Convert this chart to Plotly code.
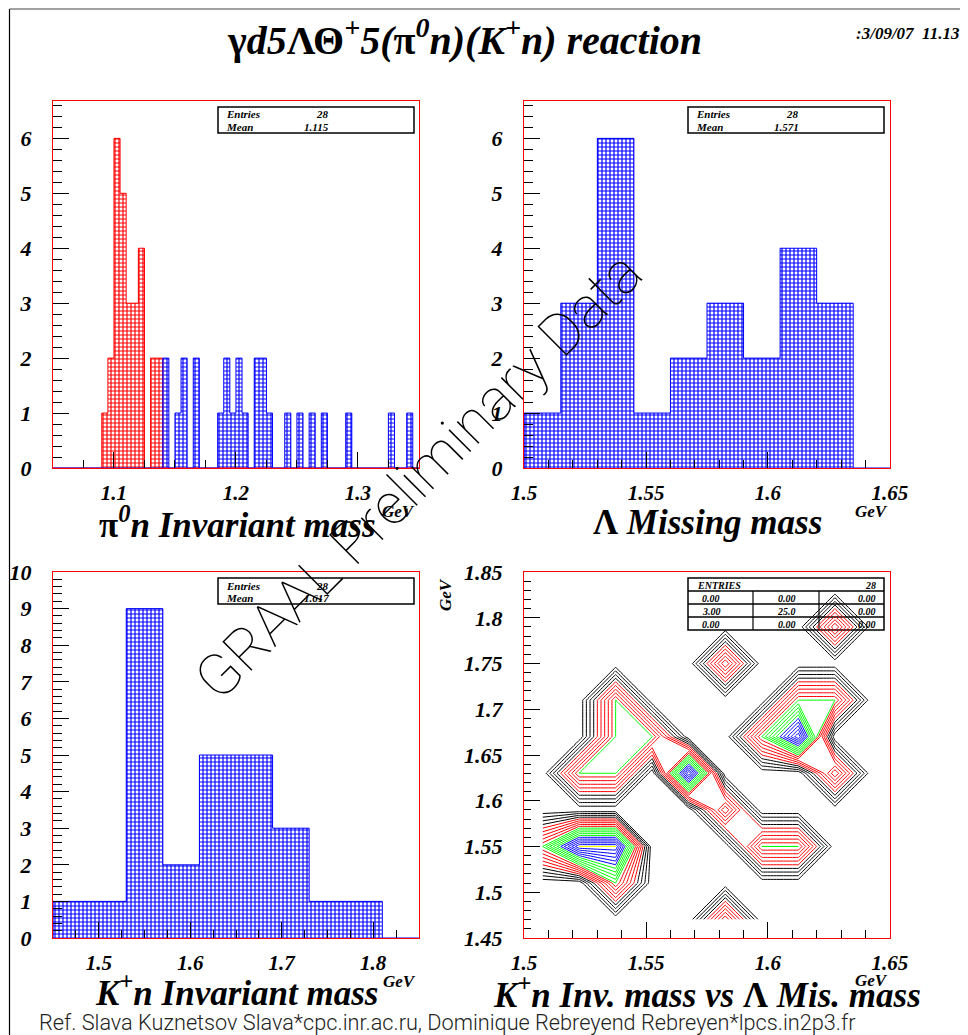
import numpy as np
import plotly.graph_objects as go

# page body margin of the viewer is 8 px; the figure is sized to fit the window
OFF = 8
FW, FH = 968 - OFF, 1035 - OFF

# ---------------- data ----------------
# pi0 n invariant mass (top-left): 60 bins of 0.005 GeV from 1.05
pi0n_lo, pi0n_w = 1.05, 0.005
pi0n_red = [0, 0, 0, 0, 0, 0, 0, 0, 1, 2,
            6, 5, 3, 3, 4, 0, 2, 2, 0, 0,
            0, 0, 0, 0, 0, 0, 0, 0, 0, 0,
            0, 0, 0, 0, 0, 0, 0, 0, 0, 0,
            0, 0, 0, 0, 0, 0, 0, 0, 0, 0,
            0, 0, 0, 0, 0, 0, 0, 0, 0, 0]
pi0n_blue = [0, 0, 0, 0, 0, 0, 0, 0, 0, 0,
             0, 0, 0, 0, 0, 0, 0, 0, 2, 0,
             1, 2, 0, 2, 0, 0, 0, 1, 2, 1,
             2, 1, 0, 2, 2, 1, 0, 0, 1, 0,
             1, 0, 1, 0, 1, 0, 0, 0, 1, 0,
             0, 0, 0, 0, 0, 1, 0, 0, 1, 0]

# Lambda missing mass (top-right): 10 bins of 0.015 GeV from 1.5
lam_lo, lam_w = 1.5, 0.015
lam_counts = [1, 3, 6, 1, 2, 3, 2, 4, 3, 0]

# K+ n invariant mass (bottom-left): 10 bins of 0.04 GeV from 1.45
kn_lo, kn_w = 1.45, 0.04
kn_counts = [1, 1, 9, 2, 5, 5, 3, 1, 1, 0]

# 2D: rows = K+n bins (y), columns = Lambda missing-mass bins (x)
z2d = [
    [0, 0, 0, 0, 0, 1, 0, 0, 0, 0],
    [0, 0, 1, 0, 0, 0, 0, 0, 0, 0],
    [1, 2, 2, 0, 0, 0, 1, 1, 0, 0],
    [0, 0, 0, 0, 0, 1, 0, 0, 0, 0],
    [0, 1, 1, 0, 2, 0, 0, 0, 1, 0],
    [0, 0, 1, 1, 0, 0, 1, 2, 0, 0],
    [0, 0, 1, 0, 0, 0, 0, 1, 1, 0],
    [0, 0, 0, 0, 0, 1, 0, 0, 0, 0],
    [0, 0, 0, 0, 0, 0, 0, 0, 1, 0],
    [0, 0, 0, 0, 0, 0, 0, 0, 0, 0],
]

stats_tl = ("28", "1.115")
stats_tr = ("28", "1.571")
stats_bl = ("28", "1.617")
stats_br_entries = "28"
stats_br_table = [["0.00", "0.00", "0.00"],
                  ["3.00", "25.0", "0.00"],
                  ["0.00", "0.00", "0.00"]]

# contour levels and their colours
contour_sets = [(0.1, 0.41, "black"), (0.5, 0.91, "red"), (0.9999, 1.41, "#00ff00"),
                (1.5, 1.91, "blue"), (1.9999, 2.0, "yellow")]

# ---------------- helpers ----------------
def px(x):
    return (x - OFF) / FW


def py(y):
    return 1 - (y - OFF) / FH


def edges(lo, w, n):
    return lo + w * np.arange(n + 1)


def centers(lo, w, n):
    e = edges(lo, w, n)
    return 0.5 * (e[:-1] + e[1:])


SERIF = "Liberation Serif"


def hist_traces(lo, w, counts, color, xa, ya):
    n = len(counts)
    e = edges(lo, w, n)
    c = centers(lo, w, n)
    bar = go.Bar(x=c, y=counts, width=w, xaxis=xa, yaxis=ya,
                 marker=dict(line=dict(width=0),
                             pattern=dict(shape="+", fgcolor=color, bgcolor="white",
                                          size=4, solidity=0.5, fillmode="replace")),
                 hoverinfo="skip")
    sx = [e[0]] + list(e[:-1]) + [e[-1], e[-1]]
    sy = [0] + list(counts) + [counts[-1], 0]
    step = go.Scatter(x=sx, y=sy, mode="lines", line=dict(color=color, width=1, shape="hv"),
                      xaxis=xa, yaxis=ya, hoverinfo="skip")
    return [bar, step]


def axis(domain, rng, dtick, mdtick, anchor, fsize, standoff, ticklen=16, mlen=8):
    return dict(domain=domain, range=rng, tickmode="linear", tick0=0, dtick=dtick,
                ticks="inside", ticklen=ticklen, tickwidth=1, tickcolor="black",
                minor=dict(dtick=mdtick, tick0=0, ticks="inside", ticklen=mlen,
                           tickcolor="black", tickwidth=1, showgrid=False),
                showline=True, linecolor="red", linewidth=1, mirror=True,
                showgrid=False, zeroline=False, anchor=anchor, automargin=False,
                tickfont=dict(family=SERIF, size=fsize, color="black",
                              weight="bold", style="italic"),
                ticklabelstandoff=standoff, fixedrange=True)


fig = go.Figure()

# top-left
for t in hist_traces(pi0n_lo, pi0n_w, pi0n_red, "red", "x", "y"):
    fig.add_trace(t)
for t in hist_traces(pi0n_lo, pi0n_w, pi0n_blue, "blue", "x", "y"):
    fig.add_trace(t)
# top-right
for t in hist_traces(lam_lo, lam_w, lam_counts, "blue", "x2", "y2"):
    fig.add_trace(t)
# bottom-left
for t in hist_traces(kn_lo, kn_w, kn_counts, "blue", "x3", "y3"):
    fig.add_trace(t)
# bottom-right contour
cx = centers(lam_lo, lam_w, 10)
cy = centers(kn_lo, kn_w, 10)
for s, e, col in contour_sets:
    fig.add_trace(go.Contour(x=cx, y=cy, z=z2d, autocontour=False,
                             contours=dict(start=s, end=e, size=0.1, coloring="none"),
                             line=dict(color=col, width=1, smoothing=0), showscale=False,
                             hoverinfo="skip", xaxis="x4", yaxis="y4"))

# panel geometry (pixels in the window)
L1, R1, L2, R2 = 53, 419, 524, 890
T1, B1, T2, B2 = 101, 468, 572, 938

fig.update_layout(
    width=FW, height=FH, margin=dict(l=0, r=0, t=0, b=0, pad=0, autoexpand=False),
    paper_bgcolor="white", plot_bgcolor="rgba(0,0,0,0)",
    showlegend=False, barmode="overlay", bargap=0,
    xaxis=axis([px(L1), px(R1)], [1.05, 1.3501], 0.1, 0.025, "y", 21, 6),
    yaxis=axis([py(B1), py(T1)], [0, 6.68], 1, 0.2, "x", 22, 16, 16, 9),
    xaxis2=axis([px(L2), px(R2)], [1.4999, 1.6501], 0.05, 0.01, "y2", 21, 6),
    yaxis2=axis([py(B1), py(T1)], [0, 6.68], 1, 0.2, "x2", 22, 16, 16, 9),
    xaxis3=axis([px(L1), px(R1)], [1.4499, 1.8501], 0.1, 0.025, "y3", 21, 6),
    yaxis3=axis([py(B2), py(T2)], [0, 10.0001], 1, 0.2, "x3", 22, 16, 16, 9),
    xaxis4=axis([px(L2), px(R2)], [1.4999, 1.6501], 0.05, 0.01, "y4", 21, 6),
    yaxis4=axis([py(B2), py(T2)], [1.4499, 1.8501], 0.05, 0.01, "x4", 22, 16, 16, 7),
)

annots = []


def ann(text, x, y, size, xanchor="center", yanchor="middle", angle=0,
        family=SERIF, weight="bold", style="italic", color="black"):
    annots.append(dict(text=text, x=px(x), y=py(y), xref="paper", yref="paper",
                       showarrow=False, xanchor=xanchor, yanchor=yanchor, textangle=angle,
                       font=dict(family=family, size=size, color=color,
                                 weight=weight, style=style)))


UP = '<span style="font-style:normal">%s</span>'

# title and date
ann(UP % "γ" + "d5" + UP % "ΛΘ" + "<sup>+</sup>5(" + UP % "π" +
    "<sup>0</sup>n)(K<sup>+</sup>n) reaction", 464, 38, 40)
ann(":3/09/07  11.13", 962, 33, 17, xanchor="right")

# axis titles
ann(UP % "π" + "<sup>0</sup>n Invariant mass", 237, 522, 35)
ann(UP % "Λ" + " Missing mass", 707, 522, 35)
ann("K<sup>+</sup>n Invariant mass", 236, 990, 35)
ann("K<sup>+</sup>n Inv. mass vs " + UP % "Λ" + " Mis. mass", 707, 992, 35)
ann("GeV", 398, 511, 17)
ann("GeV", 871, 511, 17)
ann("GeV", 399, 981, 17)
ann("GeV", 871, 980, 17)
ann("GeV", 445, 595, 17, angle=-90)

shapes = []


def rect(x0, y0, x1, y1, width=1.5):
    shapes.append(dict(type="rect", xref="paper", yref="paper", x0=px(x0), x1=px(x1),
                       y0=py(y1), y1=py(y0), line=dict(color="black", width=width),
                       fillcolor="white", layer="below"))


def line(x0, y0, x1, y1, width=1, color="black"):
    shapes.append(dict(type="line", xref="paper", yref="paper", x0=px(x0), x1=px(x1),
                       y0=py(y0), y1=py(y1), line=dict(color=color, width=width),
                       layer="below"))


# page border
line(9.5, 9, 9.5, 1035, 1.2)
line(9.5, 9, 968, 9, 1.2, "#444")


def stats_box(x0, y0, vals):
    rect(x0, y0, x0 + 196, y0 + 26)
    ann("Entries", x0 + 6, y0 + 7.5, 11, xanchor="left")
    ann(vals[0], x0 + 113, y0 + 7.5, 11, xanchor="right")
    ann("Mean", x0 + 6, y0 + 20, 11, xanchor="left")
    ann(vals[1], x0 + 113, y0 + 20, 11, xanchor="right")


stats_box(218, 107, stats_tl)
stats_box(688, 107, stats_tr)
stats_box(218, 578, stats_bl)

# 2D stats table
bx0, by0 = 688, 578
rect(bx0, by0, bx0 + 196, by0 + 52)
for k in range(3):
    line(bx0, by0 + 13 + 13 * k, bx0 + 196, by0 + 13 + 13 * k, 1.5)
line(bx0 + 65, by0 + 13, bx0 + 65, by0 + 52, 1.2)
line(bx0 + 131, by0 + 13, bx0 + 131, by0 + 52, 1.2)
ann("ENTRIES", bx0 + 7, by0 + 7, 10, xanchor="left")
ann(stats_br_entries, bx0 + 190, by0 + 7, 10, xanchor="right")
for r, row in enumerate(stats_br_table):
    yy = by0 + 20 + 13 * r
    ann(row[0], bx0 + 12, yy, 10, xanchor="left")
    ann(row[1], bx0 + 110, yy, 10, xanchor="right")
    ann(row[2], bx0 + 190, yy, 10, xanchor="right")

# watermark
ann("GRAAL Preliminary Data", 418, 476, 58, angle=-45, family="Roboto",
    weight=100, style="normal")

# footer
ann("Ref. Slava Kuznetsov Slava*cpc.inr.ac.ru, Dominique Rebreyend Rebreyen*lpcs.in2p3.fr",
    37, 1022, 21.7, xanchor="left", family="Roboto", weight=300, style="normal", color="#222")

fig.update_layout(annotations=annots, shapes=shapes)
fig.write_html("out.html")
